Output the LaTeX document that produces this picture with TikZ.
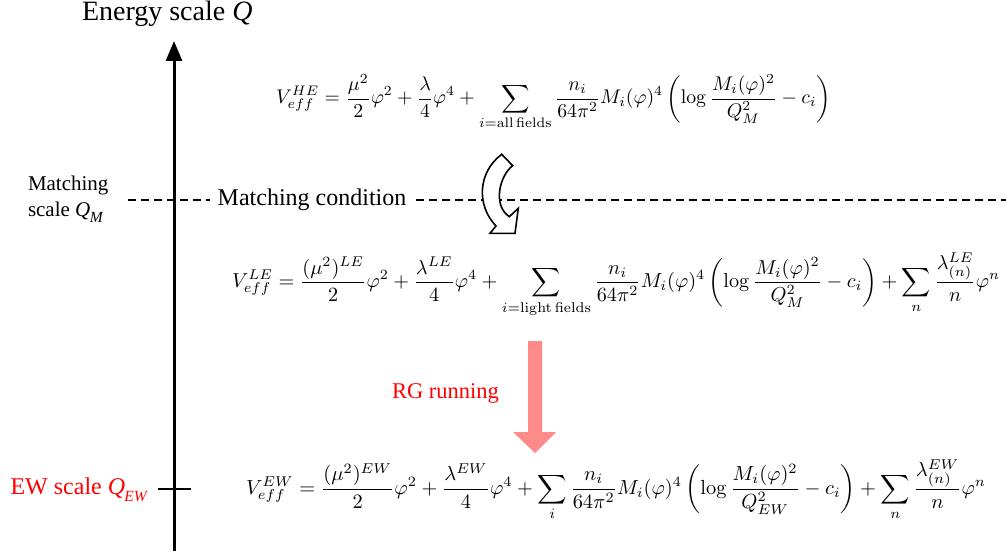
\documentclass[tikz,border=0pt]{standalone}
\usepackage[no-math]{fontspec}
\setmainfont{Liberation Serif}
\usepackage{amsmath}
\usetikzlibrary{arrows.meta}
\definecolor{pinkarrow}{RGB}{255,138,138}
\definecolor{labred}{RGB}{255,0,0}
\newcommand{\tsubscr}[1]{\kern-0.03em\raisebox{-0.32em}{\fontsize{15.5}{15.5}\selectfont\textit{#1}}}
\tikzset{
  lbl/.style={inner sep=0pt, outer sep=0pt},
  eqn/.style={inner sep=0pt, outer sep=0pt, anchor=west},
  dashline/.style={line width=1.8pt, dash pattern=on 8pt off 5pt},
}
\begin{document}
\begin{tikzpicture}[x=1pt,y=-1pt]
\useasboundingbox (0,0) rectangle (1006,556);
% axis
\coordinate (axbot) at (174,551);
\coordinate (axtop) at (174,41);
\draw[line width=3pt, -{Triangle[width=16pt,length=20pt]}] (axbot) -- (axtop);
\node[lbl, anchor=base west] (title) at (82,21) {\fontsize{28}{32}\selectfont Energy scale \textit{Q}};
% matching scale label
\node[lbl, anchor=base west] (ms1) at (28,190) {\fontsize{21}{24}\selectfont Matching};
\node[lbl, anchor=base west] (ms2) at (28,216) {\fontsize{21}{24}\selectfont scale \textit{Q}\tsubscr{M}};
% matching condition dashed line
\node[lbl, fill=white] (mc) at (312,200) {\fontsize{24}{28}\selectfont Matching condition};
\coordinate (dl) at (128,200);
\coordinate (dr) at (1006,200);
\draw[dashline] (dl) -- ([xshift=-8pt]mc.west);
\draw[dashline] ([xshift=10pt]mc.east) -- (dr);
% curved arrow
\draw[line width=1.6pt, fill=white, line join=miter]
  (501.7,154.3) -- (512.7,165.7) .. controls (500,175) and (492,205) .. (509.3,216.7)
  -- (518.3,208.3) -- (515,233.3) -- (490,233.3) -- (496,226)
  .. controls (476,205) and (478,172) .. cycle;
% EW tick and label
\coordinate (tl) at (158,489);
\coordinate (tr) at (191,489);
\draw[line width=2pt] (tl) -- (tr);
\node[lbl, anchor=base east, text=labred] (ew) at (148,494) {\fontsize{24}{28}\selectfont EW scale \textit{Q}\tsubscr{EW}};
% RG running
\node[lbl, anchor=base west, text=labred] (rg) at (392,398) {\fontsize{22.5}{26}\selectfont RG running};
\fill[pinkarrow] (528,341) -- (542,341) -- (542,432) -- (556,432) -- (535,453) -- (513,432) -- (528,432) -- cycle;
% equations
\node[eqn] (he) at (276,102) {\resizebox{555pt}{!}{$\displaystyle V_{eff}^{HE}=\frac{\mu^2}{2}\varphi^2+\frac{\lambda}{4}\varphi^4+\sum_{i=\mathrm{all\,fields}}\frac{n_i}{64\pi^2}M_i(\varphi)^4\left(\log\frac{M_i(\varphi)^2}{Q_M^2}-c_i\right)$}};
\node[eqn] (le) at (232,285) {\resizebox{768pt}{!}{$\displaystyle V_{eff}^{LE}=\frac{(\mu^2)^{LE}}{2}\varphi^2+\frac{\lambda^{LE}}{4}\varphi^4+\sum_{i=\mathrm{light\,fields}}\frac{n_i}{64\pi^2}M_i(\varphi)^4\left(\log\frac{M_i(\varphi)^2}{Q_M^2}-c_i\right)+\sum_n\frac{\lambda^{LE}_{(n)}}{n}\varphi^n$}};
\node[eqn] (ewq) at (246,490) {\resizebox{740pt}{!}{$\displaystyle V_{eff}^{EW}=\frac{(\mu^2)^{EW}}{2}\varphi^2+\frac{\lambda^{EW}}{4}\varphi^4+\sum_{i}\frac{n_i}{64\pi^2}M_i(\varphi)^4\left(\log\frac{M_i(\varphi)^2}{Q_{EW}^2}-c_i\right)+\sum_n\frac{\lambda^{EW}_{(n)}}{n}\varphi^n$}};
\end{tikzpicture}
\end{document}
